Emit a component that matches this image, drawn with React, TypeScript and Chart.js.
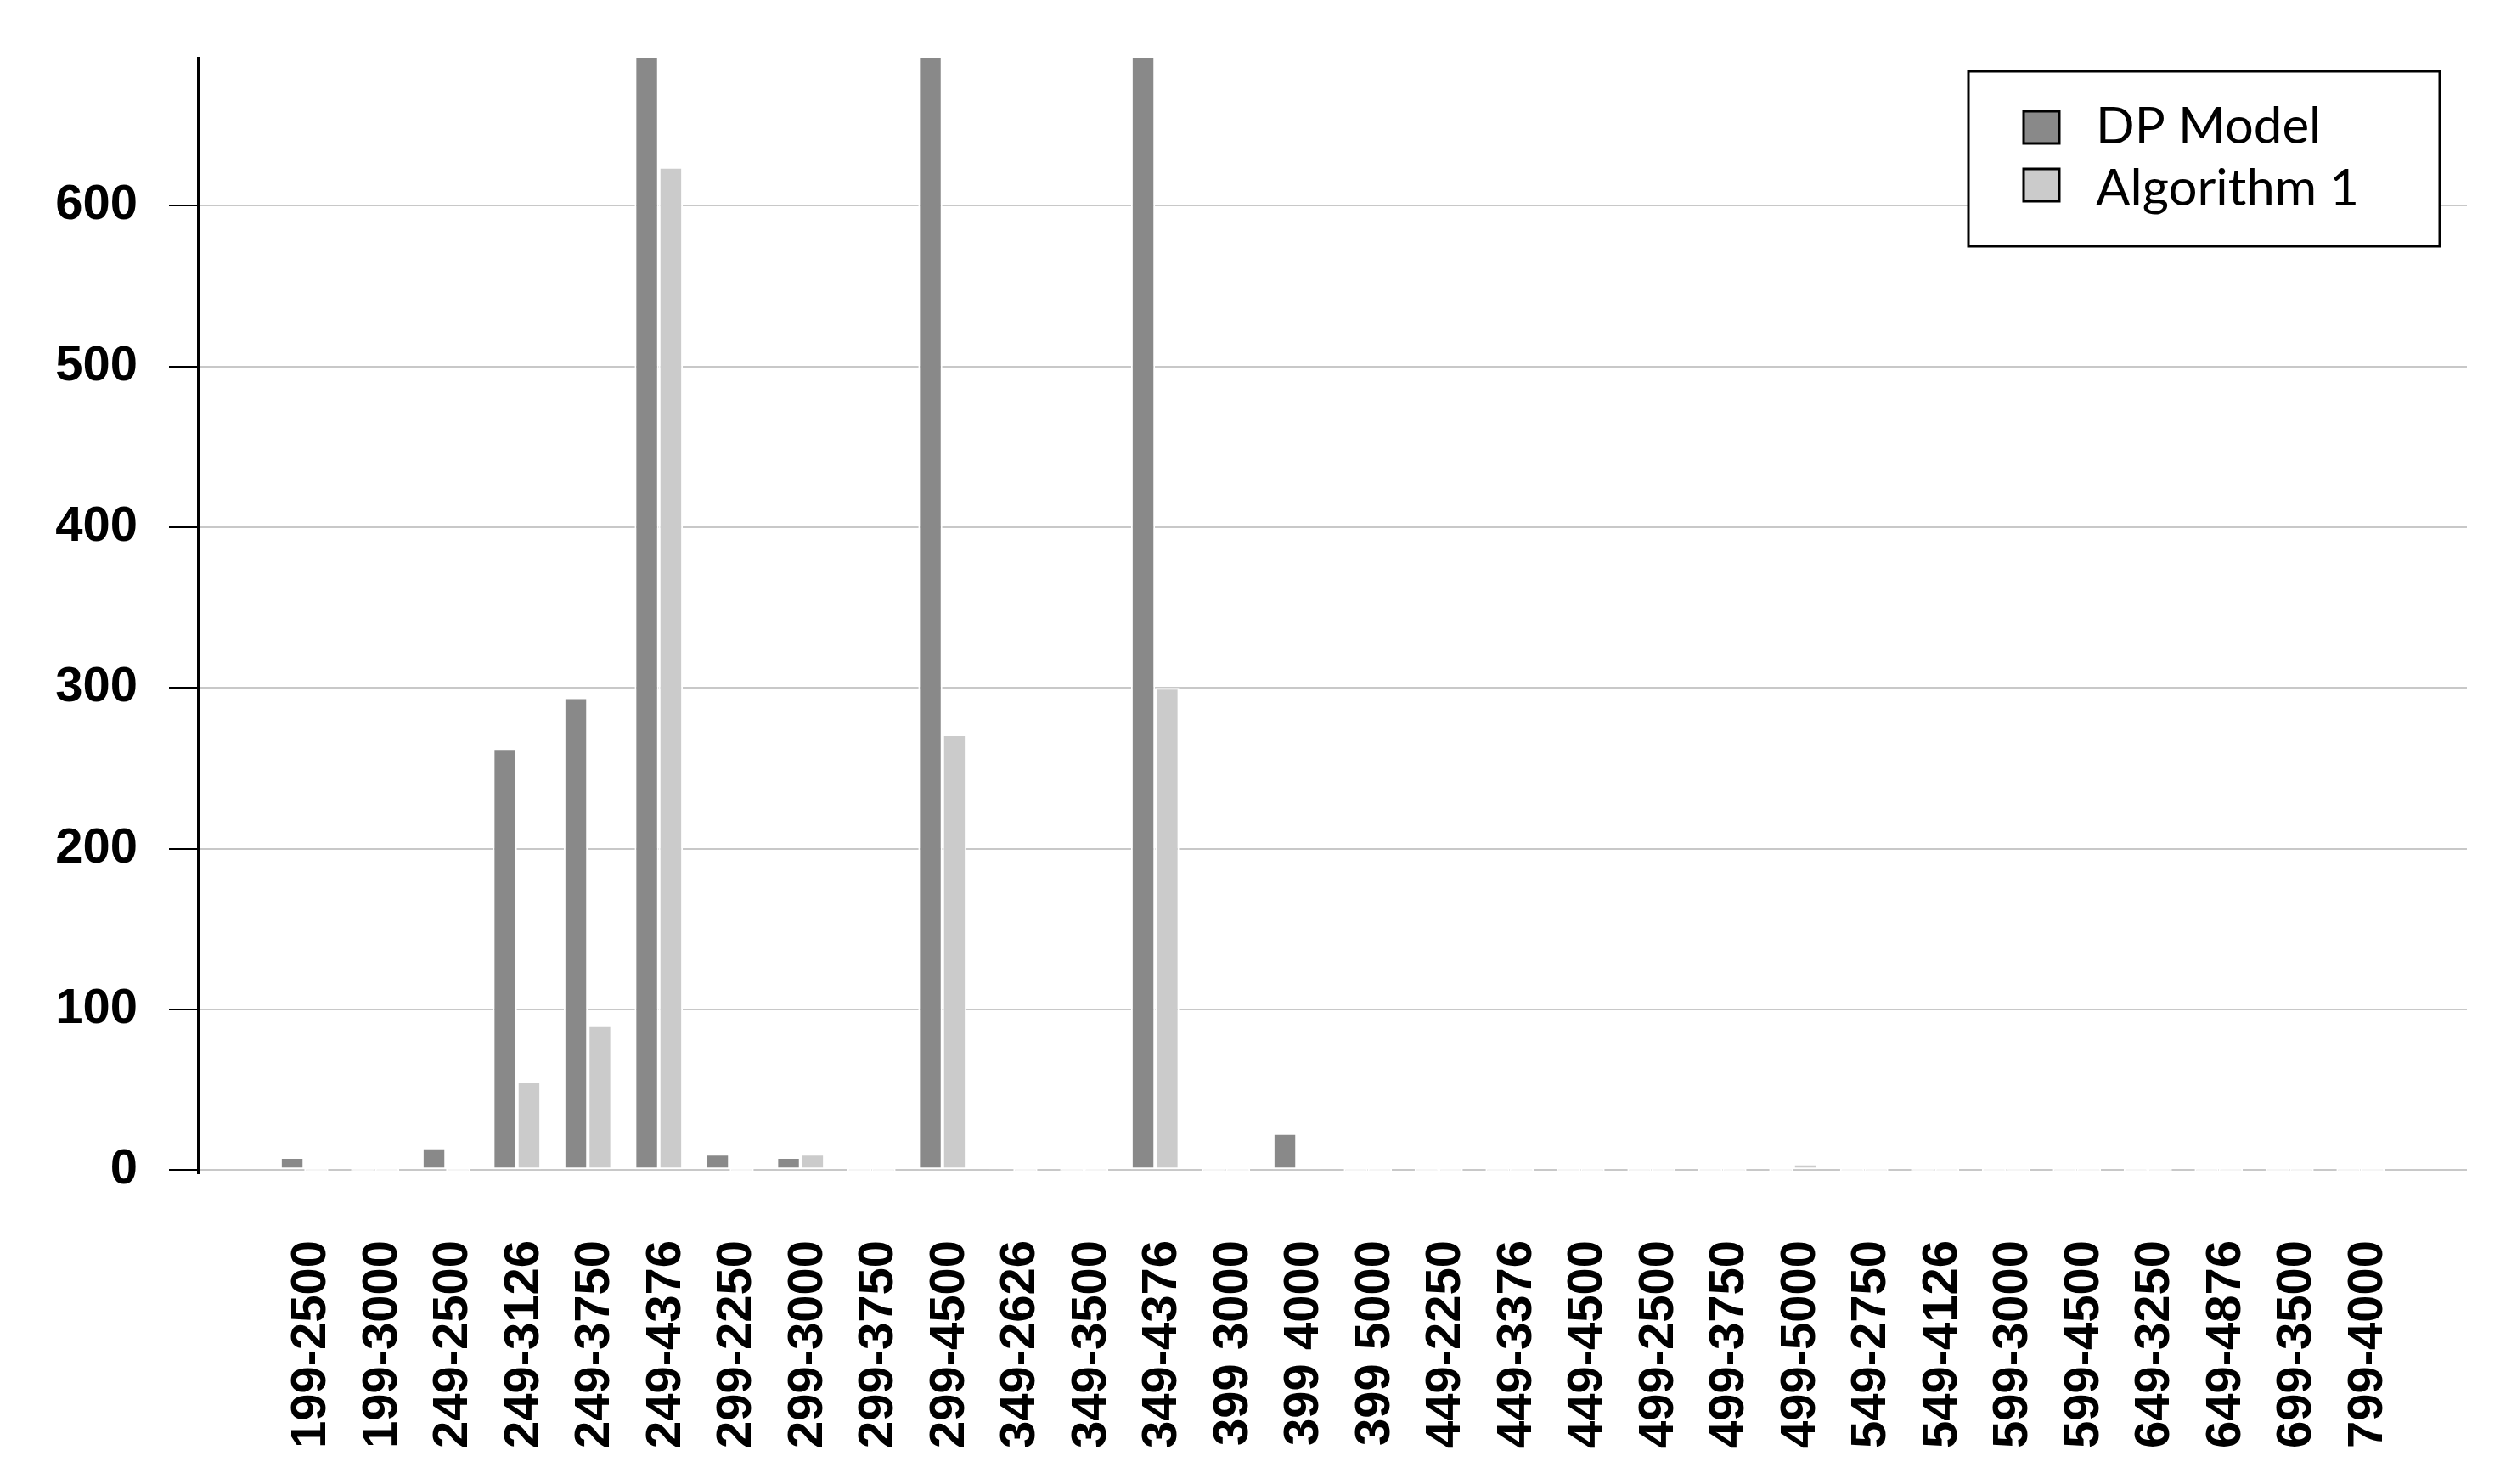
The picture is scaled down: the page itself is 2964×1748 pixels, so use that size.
import React, { useEffect, useRef } from 'react';
import { Chart, registerables } from 'chart.js';

Chart.register(...registerables);

// Category labels (blank slots at both ends give the outer padding seen in the reference)
const categories: string[] = [
  '',
  '199-2500', '199-3000', '249-2500', '249-3126', '249-3750', '249-4376',
  '299-2250', '299-3000', '299-3750', '299-4500', '349-2626', '349-3500',
  '349-4376', '399 3000', '399 4000', '399 5000', '449-2250', '449-3376',
  '449-4500', '499-2500', '499-3750', '499-5000', '549-2750', '549-4126',
  '599-3000', '599-4500', '649-3250', '649-4876', '699-3500', '799-4000',
  '',
];

const dpModel: (number | null)[] = [
  null,
  8, 0, 14, 262, 294, 760,
  10, 8, 0, 760, 2.3, 0,
  760, 0, 23, 0, 0, 0,
  0, 0, 0, 0, 0, 0,
  0, 0, 0, 0, 0, 0,
  null,
];

const algorithm1: (number | null)[] = [
  null,
  0, 0, 0, 55, 90, 624,
  0, 10, 0, 271, 0, 0,
  300, 0, 2, 0, 0, 0,
  0, 0, 0, 4, 0, 0,
  0, 0, 0, 0, 0, 0,
  null,
];

const yTicks: number[] = [0, 100, 200, 300, 400, 500, 600];

const seriesNames = ['DP Model', 'Algorithm 1'];
const seriesColors = ['#898989', '#cbcbcb'];

const W = 2964;
const H = 1748;

const boxLegend = {
  id: 'boxLegend',
  afterDraw(chart: any) {
    const { ctx, chartArea } = chart;
    const w = 555;
    const h = 206;
    const x = chartArea.right - 32 - w;
    const y = chartArea.top + 16;
    ctx.save();
    ctx.fillStyle = '#ffffff';
    ctx.fillRect(x, y, w, h);
    ctx.lineWidth = 3;
    ctx.strokeStyle = '#000000';
    ctx.strokeRect(x, y, w, h);
    chart.data.datasets.forEach((ds: any, i: number) => {
      const sy = y + 47 + i * 68;
      ctx.fillStyle = seriesColors[i];
      ctx.fillRect(x + 65, sy, 42, 38);
      ctx.lineWidth = 3;
      ctx.strokeStyle = '#000000';
      ctx.strokeRect(x + 65, sy, 42, 38);
      ctx.fillStyle = '#000000';
      ctx.font = '60px Lato, "Open Sans", sans-serif';
      ctx.textBaseline = 'alphabetic';
      ctx.textAlign = 'left';
      ctx.fillText(ds.label, x + 150, y + 85 + i * 73);
    });
    ctx.restore();
  },
};

export default function App() {
  const ref = useRef<HTMLCanvasElement | null>(null);

  useEffect(() => {
    if (!ref.current) return;
    const makeDs = (label: string, data: (number | null)[], color: string) => ({
      label,
      data,
      backgroundColor: (c: any) => (c.raw === 0 ? '#ffffff' : color),
      borderColor: '#ffffff',
      borderWidth: 2,
      borderSkipped: false as const,
      minBarLength: 5,
      categoryPercentage: 0.68,
      barPercentage: 1,
      clip: 0,
    });

    const chart = new Chart(ref.current, {
      type: 'bar',
      data: {
        labels: categories,
        datasets: [
          makeDs(seriesNames[0], dpModel, seriesColors[0]),
          makeDs(seriesNames[1], algorithm1, seriesColors[1]),
        ],
      },
      plugins: [boxLegend],
      options: {
        responsive: false,
        animation: false,
        devicePixelRatio: 1,
        layout: { padding: { top: 68, right: 59, left: 0, bottom: 0 } },
        plugins: {
          legend: { display: false },
          tooltip: { enabled: false },
          title: { display: false },
        },
        scales: {
          x: {
            type: 'category',
            offset: true,
            grid: { display: false, drawTicks: false },
            border: { display: false },
            ticks: {
              autoSkip: false,
              maxRotation: 90,
              minRotation: 90,
              padding: 79,
              labelOffset: 9,
              color: '#000000',
              font: { family: '"Liberation Sans", Arial, sans-serif', size: 58, weight: 'bold' },
            },
            afterFit: (s: any) => {
              s.height = H - 1382;
              s.paddingLeft = 0;
              s.paddingRight = 0;
            },
          },
          y: {
            type: 'linear',
            min: -2,
            max: 692,
            afterBuildTicks: (s: any) => {
              s.ticks = yTicks.map((v) => ({ value: v }));
            },
            grid: {
              color: '#c8c8c8',
              tickColor: '#000000',
              lineWidth: 2,
              tickLength: 34,
              drawOnChartArea: true,
            },
            border: { display: true, color: '#000000', width: 3 },
            ticks: {
              padding: 37,
              color: '#000000',
              font: { family: '"Liberation Sans", Arial, sans-serif', size: 58, weight: 'bold' },
              callback: (v: any) => String(v),
            },
            afterFit: (s: any) => {
              s.width = 233;
              s.paddingTop = 0;
              s.paddingBottom = 0;
            },
          },
        },
      },
    });
    return () => chart.destroy();
  }, []);

  return (
    <div style={{ position: 'absolute', left: 0, top: 0, width: W, height: H, background: '#ffffff' }}>
      <canvas ref={ref} width={W} height={H} style={{ width: W, height: H, display: 'block' }} />
    </div>
  );
}
